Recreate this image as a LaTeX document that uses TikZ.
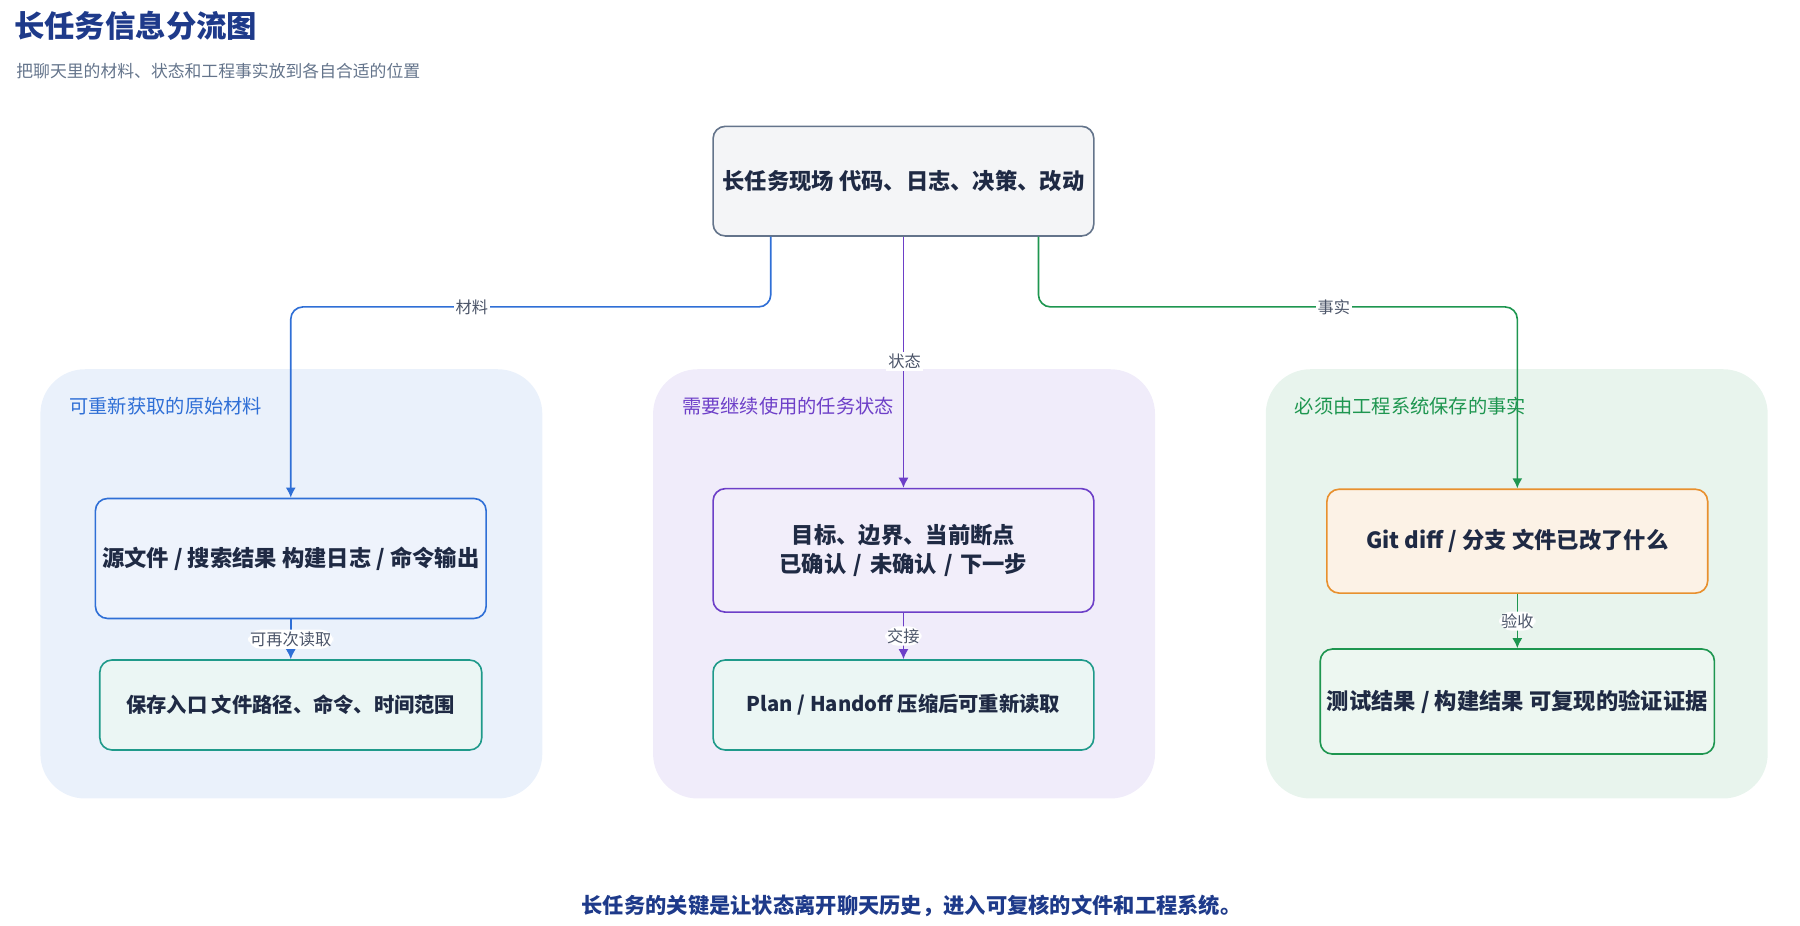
\documentclass[tikz,border=0pt]{standalone}
\usepackage{fontspec}
\setmainfont{Noto Sans CJK SC}
\usetikzlibrary{arrows.meta}
\definecolor{ink}{HTML}{1F2A44}
\definecolor{navy}{HTML}{1E3A8A}
\definecolor{slate}{HTML}{64748B}
\definecolor{cblue}{HTML}{2F6FD6}
\definecolor{cpurp}{HTML}{6D3FC8}
\definecolor{cgreen}{HTML}{1E9650}
\definecolor{cteal}{HTML}{1F9A8A}
\definecolor{corange}{HTML}{E8902E}
\tikzset{
  box/.style={draw, rounded corners=6, line width=0.8pt, text=ink, font=\fontsize{11}{14}\selectfont\bfseries, align=center},
  group/.style={rounded corners=22, draw=none},
  glabel/.style={anchor=west, font=\fontsize{9.5}{12}\selectfont},
  elabel/.style={fill=white, inner sep=1pt, text=ink!80, font=\fontsize{8}{10}\selectfont},
  link/.style={line width=0.8pt, rounded corners=6, -{Latex[length=5pt,width=5pt]}}
}
\begin{document}
\begin{tikzpicture}[x=0.02cm, y=-0.02cm]
\useasboundingbox (0,0) rectangle (1560,802);

\node[anchor=west, text=navy, font=\fontsize{15}{18}\selectfont\bfseries] (title) at (6,22) {长任务信息分流图};
\node[anchor=west, text=slate, font=\fontsize{8.3}{10}\selectfont] (sub) at (8,62) {把聊天里的材料、状态和工程事实放到各自合适的位置};

% groups
\fill[group, fill=cblue!10] (35,320) rectangle (470,692);
\fill[group, fill=cpurp!10] (566,320) rectangle (1001,692);
\fill[group, fill=cgreen!10] (1097,320) rectangle (1532,692);
\node[glabel, text=cblue] (gl) at (54,352) {可重新获取的原始材料};
\node[glabel, text=cpurp] (gm) at (585,352) {需要继续使用的任务状态};
\node[glabel, text=cgreen] (gr) at (1116,352) {必须由工程系统保存的事实};

% boxes
\node[box, draw=slate, fill=slate!7, minimum width=330*0.02cm, minimum height=95*0.02cm] (top) at (783,157) {长任务现场 代码、日志、决策、改动};
\node[box, draw=cblue, fill=cblue!8, minimum width=331*0.02cm, minimum height=104*0.02cm] (l1) at (252,484) {源文件 / 搜索结果 构建日志 / 命令输出};
\node[box, draw=cteal, fill=cteal!9, minimum width=331*0.02cm, minimum height=78*0.02cm, font=\fontsize{10}{12}\selectfont\bfseries] (l2) at (252,611) {保存入口 文件路径、命令、时间范围};
\node[box, draw=cpurp, fill=cpurp!9, minimum width=330*0.02cm, minimum height=107*0.02cm, text width=310*0.02cm] (m1) at (783,477) {目标、边界、当前断点 已确认 / 未确认 / 下一步};
\node[box, draw=cteal, fill=cteal!9, minimum width=330*0.02cm, minimum height=78*0.02cm, font=\fontsize{10}{12}\selectfont\bfseries] (m2) at (783,611) {Plan / Handoff 压缩后可重新读取};
\node[box, draw=corange, fill=corange!12, minimum width=330*0.02cm, minimum height=90*0.02cm] (r1) at (1315,469) {Git diff / 分支 文件已改了什么};
\node[box, draw=cgreen, fill=cgreen!8, minimum width=330*0.02cm, minimum height=91*0.02cm] (r2) at (1315,608) {测试结果 / 构建结果 可复现的验证证据};

% links
\coordinate (ta) at (668,205);
\coordinate (tc) at (900,205);
\draw[link, cblue] (ta) |- (400,266) -| (l1.north);
\draw[link, cpurp] (top.south) -- (m1.north);
\draw[link, cgreen] (tc) |- (1100,266) -| (r1.north);
\node[elabel] (e1) at (409,266) {材料};
\node[elabel] (e2) at (784,313) {状态};
\node[elabel] (e3) at (1156,266) {事实};
\draw[link, cblue] (l1) -- (l2) node[midway, elabel] {可再次读取};
\draw[link, cpurp] (m1) -- (m2) node[midway, elabel] {交接};
\draw[link, cgreen] (r1) -- (r2) node[midway, elabel] {验收};

\node[text=navy, font=\fontsize{10.5}{13}\selectfont\bfseries] (foot) at (790,785) {长任务的关键是让状态离开聊天历史，进入可复核的文件和工程系统。};
\end{tikzpicture}
\end{document}
